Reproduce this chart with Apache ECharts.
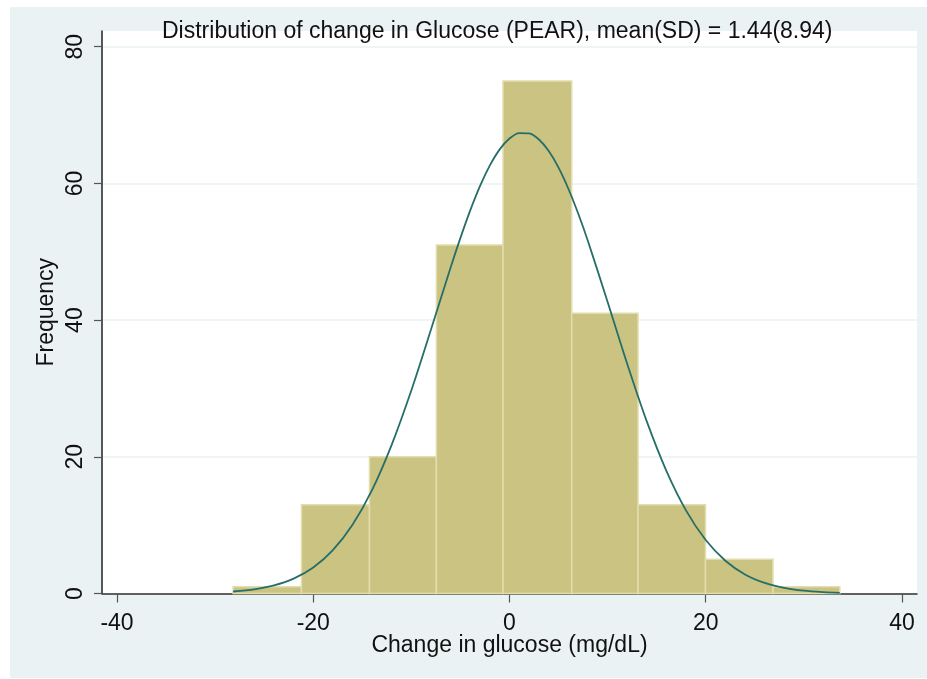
<!DOCTYPE html>
<html>
<head>
<meta charset="utf-8">
<script src="https://cdn.jsdelivr.net/npm/echarts@6/dist/echarts.min.js"></script>
<style>
html,body{margin:0;padding:0;background:#fff;}
#chart{width:927px;height:679px;}
</style>
</head>
<body>
<div id="chart"></div>
<script>
// Histogram bin edges (mg/dL) and counts
const binEdges = [-28.17, -21.2, -14.27, -7.45, -0.66, 6.34, 13.1, 19.97, 26.85, 33.66];
const binCounts = [1, 13, 20, 51, 75, 41, 13, 5, 1];

// Overlaid normal curve
const curveX = [-28.17, -26, -24, -22, -20, -18, -16, -14, -12, -10, -8, -6, -5, -4, -3, -2, -1, 0, 1, 2, 3, 4, 5, 6, 7, 8, 10, 12, 14, 16, 18, 20, 22, 24, 26, 28, 30, 32, 33.66];
const curveY = [0.29, 0.61, 1.18, 2.17, 3.8, 6.34, 10.06, 15.16, 21.79, 29.74, 38.62, 47.71, 52.03, 56.05, 59.63, 62.63, 64.98, 66.58, 67.37, 67.32, 66.43, 64.74, 62.31, 59.22, 55.59, 51.53, 42.65, 33.58, 25.14, 17.91, 12.13, 7.82, 4.79, 2.79, 1.55, 0.82, 0.41, 0.2, 0.1];

// Axis ticks
const xTicks = [-40, -20, 0, 20, 40];
const yTicks = [0, 20, 40, 60, 80];

const titleText = 'Distribution of change in Glucose (PEAR), mean(SD) = 1.44(8.94)';
const xName = 'Change in glucose (mg/dL)';
const yName = 'Frequency';

const bars = binCounts.map((c, i) => [binEdges[i], binEdges[i + 1], c]);
const curve = curveX.map((x, i) => [x, curveY[i]]);

const FONT = 'Liberation Sans, Arial, sans-serif';
const chart = echarts.init(document.getElementById('chart'), null, {renderer: 'canvas'});
chart.setOption({
  animation: false,
  backgroundColor: '#ffffff',
  graphic: [{
    type: 'rect', z: -100, silent: true,
    shape: {x: 10, y: 7, width: 917, height: 671},
    style: {fill: '#EAF2F3'}
  }],
  title: {
    text: titleText,
    left: 162, top: 20, padding: 0,
    textStyle: {fontFamily: FONT, fontSize: 23, fontWeight: 'normal', color: '#111'}
  },
  grid: {
    left: 102, right: 10, top: 31, bottom: 85.5,
    show: true, backgroundColor: '#ffffff', borderWidth: 0, containLabel: false
  },
  xAxis: {
    type: 'value', min: -41.53, max: 41.53,
    name: xName, nameLocation: 'middle', nameGap: 41, nameMoveOverlap: false,
    nameTextStyle: {fontFamily: FONT, fontSize: 23, color: '#111'},
    axisLine: {show: true, onZero: false, lineStyle: {color: '#333', width: 1.5}},
    axisTick: {show: true, length: 9, customValues: xTicks, lineStyle: {color: '#555', width: 1.2}},
    axisLabel: {customValues: xTicks, margin: 19, fontFamily: FONT, fontSize: 23, color: '#111'},
    splitLine: {show: false}
  },
  yAxis: {
    type: 'value', min: 0, max: 82.3,
    name: yName, nameLocation: 'middle', nameGap: 44, nameRotate: 90, nameMoveOverlap: false,
    nameTextStyle: {fontFamily: FONT, fontSize: 23, color: '#111'},
    axisLine: {show: true, onZero: false, lineStyle: {color: '#222', width: 1.5}},
    axisTick: {show: true, length: 8, customValues: yTicks, lineStyle: {color: '#555', width: 1.2}},
    axisLabel: {customValues: yTicks, rotate: 90, margin: 15, fontFamily: FONT, fontSize: 23, color: '#111'},
    splitLine: {show: true, lineStyle: {color: '#EAF2F3', width: 1.5}}
  },
  series: [{
    type: 'custom',
    data: bars,
    encode: {x: [0, 1], y: 2},
    renderItem: function (params, api) {
      const p0 = api.coord([api.value(0), api.value(2)]);
      const p1 = api.coord([api.value(1), 0]);
      return {
        type: 'rect',
        shape: {x: p0[0], y: p0[1], width: p1[0] - p0[0], height: p1[1] - p0[1]},
        style: {fill: '#CBC382', stroke: '#E2DDAD', lineWidth: 1.5}
      };
    },
    z: 2
  }, {
    type: 'line',
    data: curve,
    smooth: 0.3,
    showSymbol: false,
    lineStyle: {color: '#266E68', width: 1.8},
    z: 3
  }]
});
</script>
</body>
</html>
